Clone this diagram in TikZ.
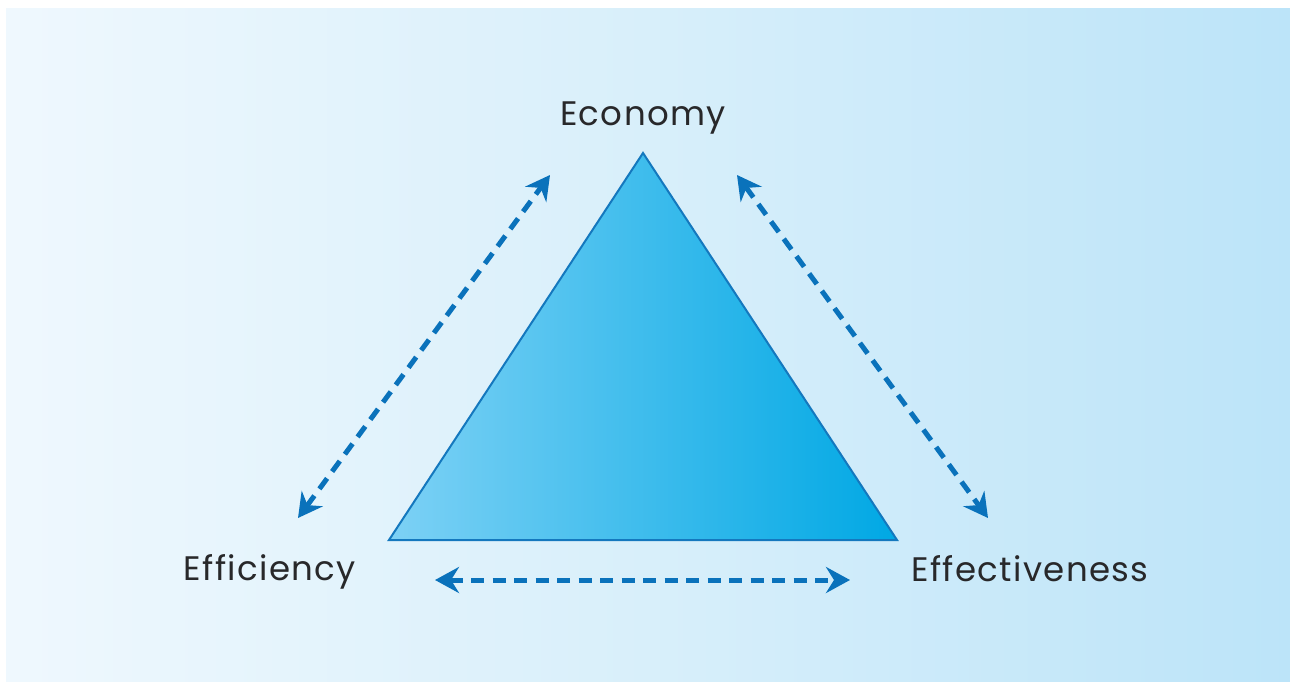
\documentclass[tikz,border=0pt]{standalone}
\usepackage{fontspec}
\setmainfont{Poppins}[LetterSpace=4]
\usetikzlibrary{arrows.meta}
\definecolor{bgL}{RGB}{239,248,254}
\definecolor{bgM}{RGB}{216,239,250}
\definecolor{bgR}{RGB}{188,228,249}
\definecolor{triL}{RGB}{125,209,245}
\definecolor{triR}{RGB}{0,168,228}
\definecolor{triEdge}{RGB}{20,120,190}
\definecolor{arr}{RGB}{10,114,187}
\definecolor{txt}{RGB}{40,40,42}
\tikzset{
  lbl/.style={text=txt, font=\fontsize{34}{38}\selectfont, inner sep=0pt, anchor=base},
  dblarrow/.style={draw=arr, line width=5pt, dash pattern=on 13pt off 8.5pt,
    {Stealth[length=24pt,width=26pt,inset=8pt]}-{Stealth[length=24pt,width=26pt,inset=8pt]}}
}
\begin{document}
\begin{tikzpicture}[x=1pt,y=-1pt]
\useasboundingbox (0,0) rectangle (1290,681);
\fill[white] (0,0) rectangle (1290,681);
\shade[left color=bgL, right color=bgR, middle color=bgM] (6,8) rectangle (1290,681);
% triangle
\shade[left color=triL, right color=triR] (643,153) -- (389,540) -- (897,540) -- cycle;
\draw[triEdge, line width=2pt, line join=miter] (643,153) -- (389,540) -- (897,540) -- cycle;
% labels
\node[lbl] (economy) at (643,125) {Economy};
\node[lbl] (efficiency) at (270,580) {Efficiency};
\node[lbl] (effectiveness) at (1030,581) {Effectiveness};
% arrow ends
\coordinate (l1) at (298,518);
\coordinate (l2) at (550,175);
\coordinate (r1) at (737,175);
\coordinate (r2) at (988,518);
\coordinate (b1) at (435,580);
\coordinate (b2) at (850,580);
\draw[dblarrow] (l1) -- (l2);
\draw[dblarrow] (r1) -- (r2);
\draw[dblarrow] (b1) -- (b2);
\end{tikzpicture}
\end{document}
